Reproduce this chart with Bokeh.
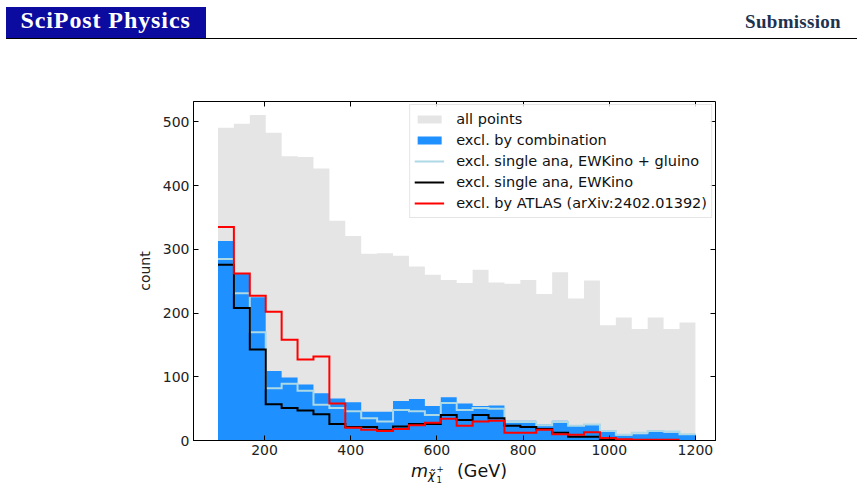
import numpy as np
from bokeh.plotting import figure
from bokeh.layouts import column
from bokeh.models import Range1d, LinearAxis, FixedTicker, Legend, LegendItem, Div
from bokeh.embed import file_html
from bokeh.resources import INLINE

# --- histogram binning (chargino mass, GeV) ---
bin_lo, bin_hi, n_bins = 92.0, 1200.0, 30
edges = np.linspace(bin_lo, bin_hi, n_bins + 1)

# counts per bin
all_points = [491, 497, 511, 483, 446, 445, 427, 345, 321, 293,
              294, 290, 273, 260, 252, 247, 268, 248, 246, 252,
              230, 264, 223, 251, 181, 193, 175, 193, 175, 185]
excl_combination = [313, 262, 225, 109, 99, 88, 74, 66, 60, 45,
                    45, 62, 65, 54, 68, 58, 54, 55, 31, 31,
                    25, 31, 24, 26, 16, 8, 10, 14, 12, 10]
excl_single_ewkino_gluino = [285, 231, 170, 82, 89, 78, 56, 51, 46, 35,
                             30, 48, 46, 40, 59, 48, 51, 50, 29, 29,
                             24, 29, 23, 25, 15, 9, 12, 15, 14, 10]
excl_single_ewkino = [276, 208, 143, 57, 51, 47, 41, 26, 21, 21,
                      16, 22, 26, 26, 40, 32, 40, 35, 23, 21,
                      18, 12, 6, 6, 2, 0, 0, 0, 0, 0]
excl_atlas = [335, 262, 227, 202, 158, 127, 132, 58, 20, 17,
              15, 18, 24, 28, 34, 23, 30, 31, 12, 12,
              17, 10, 9, 13, 4, 2, 1, 1, 1, 0]

x_ticks = [200, 400, 600, 800, 1000, 1200]
y_ticks = [0, 100, 200, 300, 400, 500]

FONT = "DejaVu Sans"


def step_outline(counts, closed):
    """Stairs path of a histogram; closed paths drop to zero at both ends."""
    c = list(counts)
    if not closed:
        while c and c[-1] == 0:
            c.pop()
    xs, ys = [], []
    for i, v in enumerate(c):
        xs += [edges[i], edges[i + 1]]
        ys += [v, v]
    if closed:
        xs = [edges[0]] + xs + [edges[len(c)]]
        ys = [0] + ys + [0]
    return xs, ys


def span(left, top, size, text, family=FONT, extra=""):
    # line-height:0 puts the baseline at top + (ascent - descent)/2
    return (f'<span style="position:absolute;left:{left}px;top:{top}px;line-height:0;'
            f'font-family:\'{family}\';font-size:{size}px;white-space:nowrap;{extra}">{text}</span>')


# --- page header ---
head_html = (
    '<div style="position:relative;width:863px;height:44px;">'
    '<div style="position:absolute;left:6px;top:7px;width:200px;height:31px;background:#0b0b9f;"></div>'
    + span(20.5, 20.2, 24, "SciPost Physics", "Liberation Serif",
           "font-weight:bold;color:white;letter-spacing:0.9px;")
    + '<span style="position:absolute;right:22px;top:21.9px;line-height:0;'
      'font-family:\'Liberation Serif\';font-size:19px;font-weight:bold;color:#1c3350;'
      'letter-spacing:0.3px;white-space:nowrap;">Submission</span>'
    '<div style="position:absolute;left:6px;top:38px;width:851px;height:1px;background:black;"></div>'
    '</div>'
)
head = Div(text=head_html, width=863, height=44, margin=0)

# --- histogram panel ---
p = figure(width=863, height=419, x_range=Range1d(35.2, 1246.6), y_range=Range1d(0, 532),
           output_backend="svg", toolbar_location=None, margin=0,
           min_border_left=193, min_border_right=148, min_border_top=57, min_border_bottom=23)
p.grid.visible = False
p.outline_line_color = "black"
p.outline_line_width = 1
p.background_fill_color = "white"
p.border_fill_color = "white"

gx, gy = step_outline(all_points, closed=True)
r_all = p.patch(gx, gy, fill_color="#e5e5e5", line_color=None)
bx, by = step_outline(excl_combination, closed=True)
r_comb = p.patch(bx, by, fill_color="#1e90ff", line_color=None)

lx, ly = step_outline(excl_single_ewkino_gluino, closed=False)
r_lb = p.line(lx, ly, line_color="#add8e6", line_width=2, line_join="miter")
kx, ky = step_outline(excl_single_ewkino, closed=False)
r_bk = p.line(kx, ky, line_color="black", line_width=2, line_join="miter")
ax_, ay_ = step_outline(excl_atlas, closed=False)
r_at = p.line(ax_, ay_, line_color="#ff0000", line_width=2, line_join="miter")

# axes: inward ticks on all four sides
xa = p.xaxis[0]
ya = p.yaxis[0]
xa.ticker = FixedTicker(ticks=x_ticks)
ya.ticker = FixedTicker(ticks=y_ticks)
for ax in (xa, ya):
    ax.major_tick_in = 5
    ax.major_tick_out = 0
    ax.minor_tick_in = 0
    ax.minor_tick_out = 0
    ax.major_tick_line_color = "black"
    ax.axis_line_color = "black"
    ax.major_label_text_font = FONT
    ax.major_label_text_font_size = "14px"
    ax.major_label_text_color = "#222222"
    ax.major_label_standoff = 4
ya.axis_label = "count"
ya.axis_label_text_font = FONT
ya.axis_label_text_font_size = "14px"
ya.axis_label_text_font_style = "normal"
ya.axis_label_text_color = "#222222"
ya.axis_label_standoff = 7

# mirrored tick marks on the top and right spines (label-free minor ticks)
top_ax = LinearAxis(ticker=FixedTicker(ticks=[], minor_ticks=x_ticks),
                    major_tick_in=0, major_tick_out=0, minor_tick_in=5, minor_tick_out=0,
                    minor_tick_line_color="black", axis_line_color=None)
right_ax = LinearAxis(ticker=FixedTicker(ticks=[], minor_ticks=y_ticks),
                      major_tick_in=0, major_tick_out=0, minor_tick_in=5, minor_tick_out=0,
                      minor_tick_line_color="black", axis_line_color=None)
p.add_layout(top_ax, "above")
p.add_layout(right_ax, "right")

legend = Legend(items=[
    LegendItem(label="all points", renderers=[r_all]),
    LegendItem(label="excl. by combination", renderers=[r_comb]),
    LegendItem(label="excl. single ana, EWKino + gluino", renderers=[r_lb]),
    LegendItem(label="excl. single ana, EWKino", renderers=[r_bk]),
    LegendItem(label="excl. by ATLAS (arXiv:2402.01392)", renderers=[r_at]),
], location="top_right")
legend.label_text_font = FONT
legend.label_text_font_size = "14.5px"
legend.label_text_color = "#111111"
legend.glyph_width = 30
legend.glyph_height = 10
legend.label_height = 20
legend.label_standoff = 12
legend.spacing = 1
legend.padding = 4
legend.margin = 3
legend.border_line_color = "#cccccc"
legend.border_line_width = 1
legend.background_fill_color = "white"
legend.background_fill_alpha = 0.8
p.add_layout(legend)

# --- x-axis title: m with subscript chi-tilde_1^+ , then (GeV) ---
foot_html = (
    '<div style="position:relative;width:863px;height:27px;color:#111111;">'
    + span(411, 7.6, 17.5, "m", extra="font-style:italic;")
    + span(428, 12.3, 12.2, "\u03c7\u0303", extra="font-style:italic;")
    + span(436.5, 5.6, 8.6, "+")
    + span(436.5, 17.3, 8.6, "1")
    + span(457, 7.6, 17.5, "(GeV)")
    + '</div>'
)
foot = Div(text=foot_html, width=863, height=27, margin=0)

page = column(head, p, foot, spacing=0)
open("out.html", "w").write(file_html(page, INLINE))
